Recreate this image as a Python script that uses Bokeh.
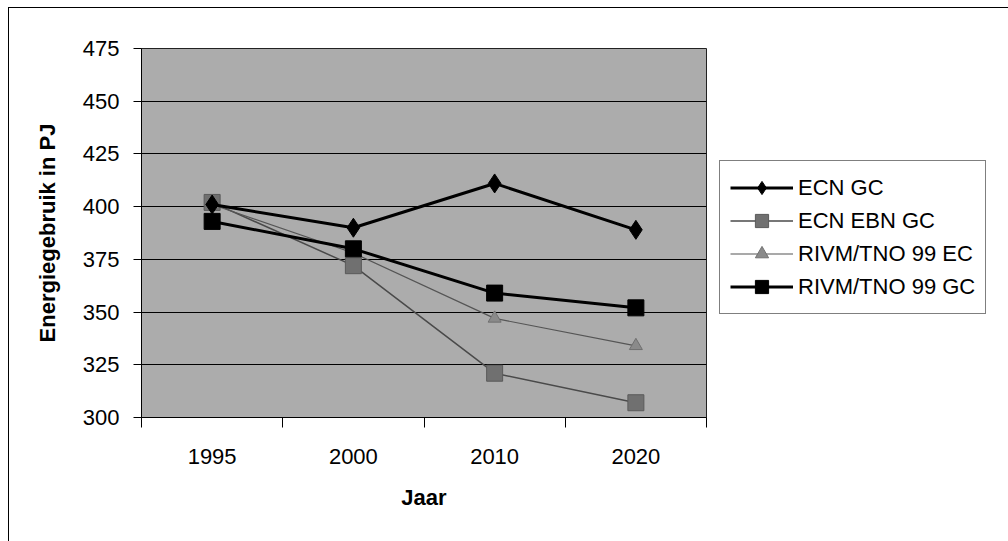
from bokeh.plotting import figure
from bokeh.layouts import row
from bokeh.models import (FactorRange, Range1d, LinearAxis, CategoricalAxis, FixedTicker,
                          Legend, LegendItem, ColumnDataSource)
from bokeh.embed import file_html
from bokeh.resources import INLINE

years = ["1995", "2000", "2010", "2020"]
ecn_gc = [401, 390, 411, 389]
ecn_ebn_gc = [402, 372, 321, 307]
rivm_ec = [401, 378, 347, 334]
rivm_gc = [393, 380, 359, 352]
y_ticks = [300, 325, 350, 375, 400, 425, 450, 475]
series_names = ["ECN GC", "ECN EBN GC", "RIVM/TNO 99 EC", "RIVM/TNO 99 GC"]

FONT = "Liberation Sans"
FS = "22px"

styles = {
    "b": dict(line=dict(line_color="#4a4a4a", line_width=1.5),
              mark=dict(marker="square", size=16, fill_color="#707070", line_color="#5a5a5a", line_width=1)),
    "c": dict(line=dict(line_color="#555555", line_width=1.2),
              mark=dict(marker="triangle", size=13, fill_color="#8a8a8a", line_color="#707070", line_width=1)),
    "a": dict(line=dict(line_color="black", line_width=3),
              mark=dict(marker="diamond", size=19, fill_color="black", line_color="black")),
    "d": dict(line=dict(line_color="black", line_width=3),
              mark=dict(marker="square", size=16, fill_color="black", line_color="black")),
}


def draw_series(fig, src, visible=True):
    out = {}
    for key in ["b", "c", "a", "d"]:
        ln = fig.line("x", key, source=src, visible=visible, **styles[key]["line"])
        mk = fig.scatter("x", key, source=src, visible=visible, **styles[key]["mark"])
        out[key] = [ln, mk]
    return out


src = ColumnDataSource(dict(x=years, a=ecn_gc, b=ecn_ebn_gc, c=rivm_ec, d=rivm_gc))

p = figure(width=698, height=533, x_range=FactorRange(factors=years),
           y_range=Range1d(300, 475), output_backend="svg", toolbar_location=None,
           x_axis_location=None, y_axis_location=None,
           min_border_left=132, min_border_right=1, min_border_top=40, min_border_bottom=124)

p.background_fill_color = "#acacac"
p.border_fill_color = "white"
p.outline_line_color = "#222222"
p.outline_line_width = 1

yax = LinearAxis(ticker=FixedTicker(ticks=y_ticks))
yax.axis_label = "Energiegebruik in PJ"
yax.axis_label_text_font = FONT
yax.axis_label_text_font_style = "bold"
yax.axis_label_text_font_size = FS
yax.axis_label_text_color = "black"
yax.axis_label_standoff = 20
yax.major_label_text_font = FONT
yax.major_label_text_font_size = FS
yax.major_label_text_color = "black"
yax.major_label_standoff = 14
yax.major_tick_in = 0
yax.major_tick_out = 8
yax.minor_tick_in = 0
yax.minor_tick_out = 0
yax.axis_line_color = "black"
p.add_layout(yax, "left")

# tick-only axis: ticks at category boundaries (factor range synthetic units)
tax = LinearAxis(ticker=FixedTicker(ticks=[0, 1, 2, 3, 4]))
tax.major_label_text_font_size = "1px"
tax.major_label_text_color = None
tax.major_label_standoff = 0
tax.major_tick_in = 0
tax.major_tick_out = 10
tax.minor_tick_out = 0
tax.minor_tick_in = 0
tax.axis_line_color = "black"
p.add_layout(tax, "below")

xax = CategoricalAxis()
xax.axis_label = "Jaar"
xax.axis_label_text_font = FONT
xax.axis_label_text_font_style = "bold"
xax.axis_label_text_font_size = FS
xax.axis_label_text_color = "black"
xax.axis_label_standoff = 18
xax.major_label_text_font = FONT
xax.major_label_text_font_size = FS
xax.major_label_text_color = "black"
xax.major_label_standoff = 15
xax.major_tick_line_color = None
xax.axis_line_color = None
p.add_layout(xax, "below")

p.xgrid.grid_line_color = None
p.ygrid.grid_line_color = "black"
p.ygrid.grid_line_width = 1
p.ygrid.ticker = FixedTicker(ticks=y_ticks[1:-1])

draw_series(p, src)

# legend panel
q = figure(width=301, height=533, x_range=FactorRange(factors=years),
           y_range=Range1d(300, 475), output_backend="svg", toolbar_location=None,
           x_axis_location=None, y_axis_location=None,
           min_border_left=0, min_border_right=0, min_border_top=0, min_border_bottom=0)
q.outline_line_color = None
q.background_fill_color = "white"
q.border_fill_color = "white"
q.xgrid.visible = False
q.ygrid.visible = False
rs = draw_series(q, src, visible=False)

legend = Legend(items=[
    LegendItem(label=series_names[0], renderers=rs["a"]),
    LegendItem(label=series_names[1], renderers=rs["b"]),
    LegendItem(label=series_names[2], renderers=rs["c"]),
    LegendItem(label=series_names[3], renderers=rs["d"]),
], location=(12, 103))
legend.label_text_font = FONT
legend.label_text_font_size = FS
legend.label_text_color = "black"
legend.glyph_width = 63
legend.glyph_height = 33
legend.label_height = 33
legend.spacing = 0
legend.padding = 10
legend.margin = 0
legend.label_standoff = 5
legend.border_line_color = "black"
legend.border_line_width = 1
legend.background_fill_color = "white"
legend.background_fill_alpha = 1
q.add_layout(legend)

layout = row(p, q)
layout.spacing = 0
layout.styles = {"margin-left": "8px", "margin-top": "7px",
                 "border-top": "1px solid black", "border-left": "1px solid black"}

open("out.html", "w").write(file_html(layout, INLINE))
